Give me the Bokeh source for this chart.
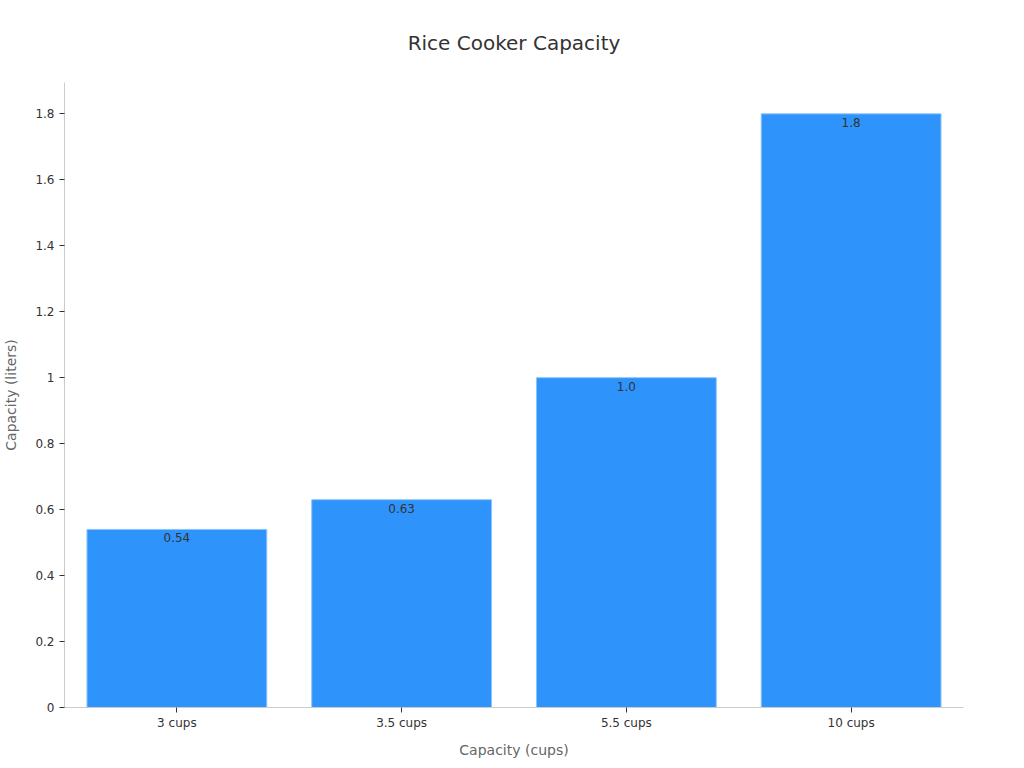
from bokeh.plotting import figure
from bokeh.models import ColumnDataSource, FixedTicker, NumeralTickFormatter, Range1d
from bokeh.embed import file_html
from bokeh.resources import INLINE

categories = ["3 cups", "3.5 cups", "5.5 cups", "10 cups"]
values = [0.54, 0.63, 1.0, 1.8]
value_labels = ["0.54", "0.63", "1.0", "1.8"]
y_ticks = [0, 0.2, 0.4, 0.6, 0.8, 1.0, 1.2, 1.4, 1.6, 1.8]

FONT = "DejaVu Sans"

src = ColumnDataSource(dict(cat=categories, val=values, lab=value_labels))

p = figure(x_range=categories, y_range=Range1d(0, 1.895), width=1008, height=760,
           output_backend="svg", toolbar_location=None,
           min_border_left=64, min_border_right=45, min_border_top=80, min_border_bottom=52,
           title="Rice Cooker Capacity")
p.title.align = "center"
p.title.text_font = FONT
p.title.text_font_size = "20px"
p.title.text_font_style = "normal"
p.title.text_color = "#333333"
p.title.standoff = 56

p.vbar(x="cat", top="val", width=0.8, source=src, fill_color="#2E93FA",
       line_color="#8cc4fc", line_width=1)
p.text(x="cat", y="val", text="lab", source=src, text_align="center",
       text_baseline="top", y_offset=4, text_font_size="12px",
       text_color="#333333", text_font={"value": FONT})

p.outline_line_color = None
p.xgrid.grid_line_color = None
p.ygrid.grid_line_color = None

for ax in (p.xaxis, p.yaxis):
    ax.axis_line_color = "#cccccc"
    ax.major_tick_line_color = "#333333"
    ax.minor_tick_line_color = None
    ax.major_tick_out = 5
    ax.major_tick_in = 0
    ax.major_label_text_font = FONT
    ax.major_label_text_font_size = "12px"
    ax.major_label_text_color = "#333333"
    ax.axis_label_text_font = FONT
    ax.axis_label_text_font_size = "14px"
    ax.axis_label_text_font_style = "normal"
    ax.axis_label_text_color = "#666666"

p.xaxis.axis_label = "Capacity (cups)"
p.yaxis.axis_label = "Capacity (liters)"
p.yaxis.ticker = FixedTicker(ticks=y_ticks)
p.yaxis.formatter = NumeralTickFormatter(format="0.[0]")
p.yaxis.axis_label_standoff = 13
p.xaxis.axis_label_standoff = 9
p.x_range.range_padding = 0
p.xaxis.major_label_standoff = 3

open("out.html", "w").write(file_html(p, INLINE))
